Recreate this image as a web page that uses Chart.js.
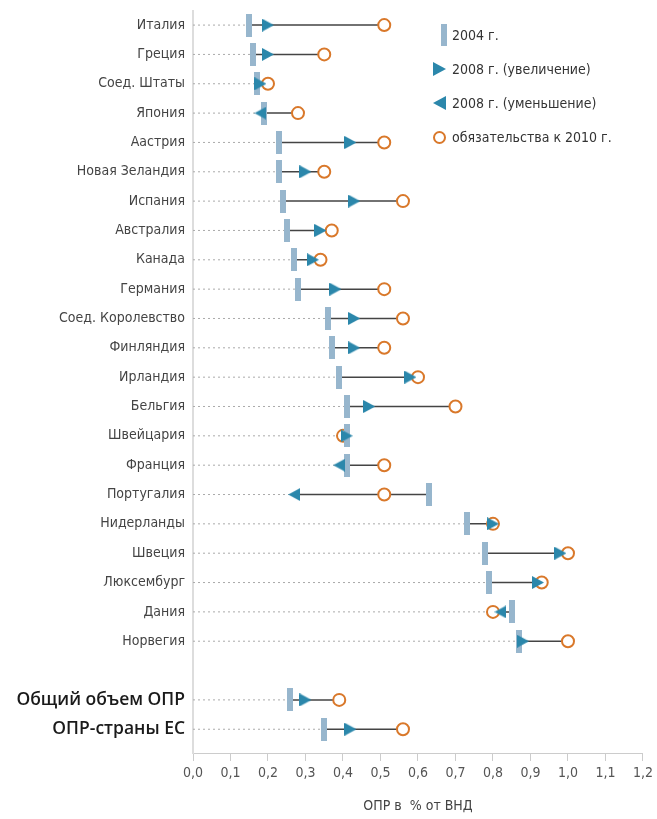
<!DOCTYPE html>
<html lang="ru">
<head>
<meta charset="utf-8">
<title>ОПР в % от ВНД</title>
<script src="https://cdn.jsdelivr.net/npm/chart.js@4/dist/chart.umd.min.js"></script>
<style>
  body { margin: 0; background: #fff; }
  #wrap { position: relative; width: 657px; height: 819px; }
  #legend { position: absolute; left: 433px; top: 0; font-family: 'Liberation Sans Narrow', 'DejaVu Sans Condensed', 'Liberation Sans', sans-serif; font-size: 14px; color: #333; }
  .item { position: absolute; left: 0; white-space: nowrap; height: 24px; line-height: 24px; }
  .item span.txt { position: absolute; left: 19px; top: 0; }
  .mk { position: absolute; }
  .mk.bar { left: 8px; top: 1px; width: 6px; height: 22px; background: #97b6cd; }
  .mk.triR { left: 0; top: 5px; width: 0; height: 0; border-left: 13px solid #2b87ab; border-top: 7px solid transparent; border-bottom: 7px solid transparent; }
  .mk.triL { left: 0; top: 5px; width: 0; height: 0; border-right: 13px solid #2b87ab; border-top: 7px solid transparent; border-bottom: 7px solid transparent; }
  .mk.circ { left: 0; top: 6px; width: 13px; height: 13px; box-sizing: border-box; border: 2px solid #d9782a; border-radius: 50%; }
</style>
</head>
<body>
<div id="wrap">
  <canvas id="chart" width="657" height="819"></canvas>
  <div id="legend">
    <div class="item" style="top:23px"><span class="mk bar"></span><span class="txt">2004 г.</span></div>
    <div class="item" style="top:57px"><span class="mk triR"></span><span class="txt">2008 г. (увеличение)</span></div>
    <div class="item" style="top:91px"><span class="mk triL"></span><span class="txt">2008 г. (уменьшение)</span></div>
    <div class="item" style="top:125px"><span class="mk circ"></span><span class="txt">обязательства к 2010 г.</span></div>
  </div>
</div>
<script>
// Data (ODA as % of GNI)
const countries = ['Италия', 'Греция', 'Соед. Штаты', 'Япония', 'Аастрия', 'Новая Зеландия', 'Испания',
  'Австралия', 'Канада', 'Германия', 'Соед. Королевство', 'Финляндия', 'Ирландия', 'Бельгия',
  'Швейцария', 'Франция', 'Португалия', 'Нидерланды', 'Швеция', 'Люксембург', 'Дания', 'Норвегия',
  '', 'Общий объем ОПР', 'ОПР-страны ЕС'];
const oda2004 = [0.15, 0.16, 0.17, 0.19, 0.23, 0.23, 0.24, 0.25, 0.27, 0.28, 0.36, 0.37, 0.39, 0.41,
  0.41, 0.41, 0.63, 0.73, 0.78, 0.79, 0.85, 0.87, null, 0.26, 0.35];
const oda2008 = [0.20, 0.20, 0.18, 0.18, 0.42, 0.30, 0.43, 0.34, 0.32, 0.38, 0.43, 0.43, 0.58, 0.47,
  0.41, 0.39, 0.27, 0.80, 0.98, 0.92, 0.82, 0.88, null, 0.30, 0.42];
const target2010 = [0.51, 0.35, 0.20, 0.28, 0.51, 0.35, 0.56, 0.37, 0.34, 0.51, 0.56, 0.51, 0.60, 0.70,
  0.40, 0.51, 0.51, 0.80, 1.00, 0.93, 0.80, 1.00, null, 0.39, 0.56];
const xTicks = [0, 0.1, 0.2, 0.3, 0.4, 0.5, 0.6, 0.7, 0.8, 0.9, 1.0, 1.1, 1.2];

const BAR = '#97b6cd', TRI = '#2b87ab', CIRC = '#d9782a';
const narrow = "'Liberation Sans Narrow', 'DejaVu Sans Condensed', 'Liberation Sans', sans-serif";

// small canvases used as point styles
function makeMarker(w, h, draw) {
  const c = document.createElement('canvas');
  c.width = w; c.height = h;
  draw(c.getContext('2d'), w, h);
  return c;
}
const barImg = makeMarker(6, 23, (g, w, h) => { g.fillStyle = BAR; g.fillRect(0, 0, w, h); });
const triRight = makeMarker(12, 13, (g, w, h) => {
  g.fillStyle = TRI; g.beginPath(); g.moveTo(0, 0); g.lineTo(w, h / 2); g.lineTo(0, h); g.closePath(); g.fill();
});
const triLeft = makeMarker(12, 13, (g, w, h) => {
  g.fillStyle = TRI; g.beginPath(); g.moveTo(w, 0); g.lineTo(0, h / 2); g.lineTo(w, h); g.closePath(); g.fill();
});

// build point lists from the arrays
const up = [], down = [], bars = [], circles = [], solid = [], dotted = [];
countries.forEach((name, i) => {
  if (oda2004[i] == null) return;
  const vals = [oda2004[i], oda2008[i], target2010[i]];
  const lo = Math.min(...vals), hi = Math.max(...vals);
  (oda2008[i] >= oda2004[i] ? up : down).push({ x: oda2008[i], y: i });
  bars.push({ x: oda2004[i], y: i });
  circles.push({ x: target2010[i], y: i });
  solid.push({ x: lo, y: i }, { x: hi, y: i }, { x: null, y: null });
  dotted.push({ x: 0, y: i }, { x: lo, y: i }, { x: null, y: null });
});

const bigRow = ctx => !!ctx.tick && ctx.tick.value >= countries.length - 2;

new Chart(document.getElementById('chart'), {
  type: 'scatter',
  data: {
    datasets: [
      { label: 'up', data: up, pointStyle: triRight, pointRadius: 6, order: 0 },
      { label: 'down', data: down, pointStyle: triLeft, pointRadius: 6, order: 1 },
      { label: 'bar', data: bars, pointStyle: barImg, pointRadius: 6, order: 2 },
      { label: 'target', data: circles, pointStyle: 'circle', pointRadius: 6, borderColor: CIRC,
        borderWidth: 2, backgroundColor: '#fff', order: 3 },
      { label: 'span', data: solid, showLine: true, pointRadius: 0, borderColor: '#444',
        borderWidth: 1.5, spanGaps: false, order: 4 },
      { label: 'dots', data: dotted, showLine: true, pointRadius: 0, borderColor: '#aaa',
        borderWidth: 1, borderDash: [2, 3], spanGaps: false, order: 5 }
    ]
  },
  options: {
    responsive: false,
    animation: false,
    layout: { padding: { top: 11, right: 10, left: 0, bottom: 0 } },
    plugins: { legend: { display: false }, tooltip: { enabled: false } },
    scales: {
      x: {
        type: 'linear', min: 0, max: 1.2,
        afterBuildTicks: axis => { axis.ticks = xTicks.map(v => ({ value: v })); },
        afterFit: scale => { scale.height = 66; },
        grid: { drawOnChartArea: false, drawTicks: true, tickLength: 8, color: '#ccc' },
        border: { color: '#ccc', width: 1 },
        ticks: {
          padding: 4, color: '#555', font: { family: narrow, size: 14 },
          callback: v => v.toFixed(1).replace('.', ',')
        },
        title: {
          display: true, text: 'ОПР в  % от ВНД', color: '#444',
          font: { family: narrow, size: 14 }, padding: { top: 0, bottom: 4 }
        }
      },
      y: {
        type: 'linear', reverse: true, min: -0.48, max: 24.81,
        afterBuildTicks: axis => { axis.ticks = countries.map((_, i) => ({ value: i })); },
        afterFit: scale => { scale.width = 193; scale.paddingTop = 0; scale.paddingBottom = 0; },
        grid: { display: false, drawTicks: false },
        border: { display: true, color: '#ddd', width: 2 },
        ticks: {
          padding: 8, autoSkip: false,
          callback: v => countries[v],
          color: ctx => bigRow(ctx) ? '#1a1a1a' : '#444',
          font: ctx => bigRow(ctx)
            ? { family: "'Open Sans', 'Noto Sans', sans-serif", size: 17.5, weight: '600' }
            : { family: narrow, size: 14 }
        }
      }
    }
  }
});
</script>
</body>
</html>
